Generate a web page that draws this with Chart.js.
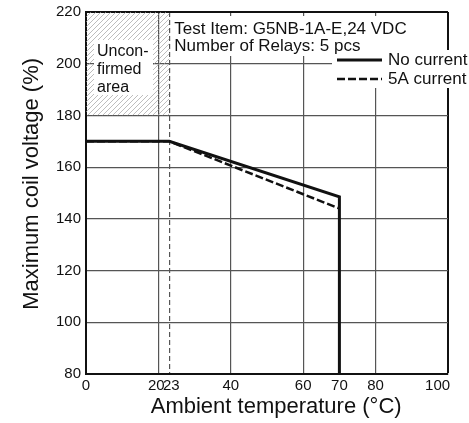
<!DOCTYPE html>
<html>
<head>
<meta charset="utf-8">
<script src="https://cdn.jsdelivr.net/npm/chart.js@4.4.0/dist/chart.umd.min.js"></script>
<style>
html, body { margin: 0; padding: 0; background: #fff; }
#wrap { width: 469px; height: 423px; }
</style>
</head>
<body>
<div id="wrap"><canvas id="coilChart" width="469" height="423"></canvas></div>
<script>
// axis ticks
const xTickValues = [0, 20, 23, 40, 60, 70, 80, 100];
const xTickLabels = ['0', '20 ', ' 23', '40', '60', '70', '80', '100     '];
const yMin = 80, yMax = 220, yStep = 20;

// curves
const noCurrentX = [0, 23, 70, 70];
const noCurrentY = [170, 170, 148.5, 80];
const fiveAX = [0, 23, 70];
const fiveAY = [170, 170, 144];
const seriesNames = ['No current', '5A current'];

// annotations
const unconfirmedX = [0, 23];
const unconfirmedY = [180, 220];
const unconfirmedText = ['Uncon-', 'firmed', 'area'];
const noteText = ['Test Item: G5NB-1A-E,24 VDC', 'Number of Relays: 5 pcs'];

const FONT = "'Liberation Sans', Arial, Helvetica, sans-serif";
const INK = '#111';
const GRID = '#555';

function initChart() {
    Chart.defaults.font.family = FONT;
    Chart.defaults.color = INK;

    const overlay = {
        id: 'overlay',
        beforeDatasetsDraw(chart) {
            const { ctx, chartArea: area } = chart;
            const xs = chart.scales.x, ys = chart.scales.y;

            // hatched "unconfirmed" region
            const left = xs.getPixelForValue(unconfirmedX[0]);
            const right = xs.getPixelForValue(unconfirmedX[1]);
            const top = ys.getPixelForValue(unconfirmedY[1]);
            const bottom = ys.getPixelForValue(unconfirmedY[0]);
            const h = bottom - top;
            ctx.save();
            ctx.beginPath();
            ctx.rect(left, top, right - left, h);
            ctx.clip();
            ctx.strokeStyle = '#a0a0a0';
            ctx.lineWidth = 0.7;
            ctx.beginPath();
            for (let k = -h; k < right - left; k += 5) {
                ctx.moveTo(left + k, bottom);
                ctx.lineTo(left + k + h, top);
            }
            ctx.stroke();
            ctx.restore();

            ctx.save();
            ctx.fillStyle = '#fff';
            ctx.fillRect(left + 8, top + 28, 59, 55);
            ctx.fillStyle = INK;
            ctx.font = '16px ' + FONT;
            ctx.textBaseline = 'alphabetic';
            unconfirmedText.forEach((t, i) => ctx.fillText(t, left + 11, top + 44 + i * 18));

            // legend box (drawn under the note so descenders stay visible)
            const lgX = area.right - 116;
            ctx.fillStyle = '#fff';
            ctx.fillRect(lgX, area.top + 38, 140, 38);

            // test conditions note
            const noteLeft = xs.getPixelForValue(unconfirmedX[1]) + 2;
            ctx.fillStyle = '#fff';
            ctx.fillRect(noteLeft, area.top + 4, area.right - noteLeft - 1, 40);
            ctx.fillStyle = INK;
            ctx.font = '17px ' + FONT;
            noteText.forEach((t, i) => ctx.fillText(t, noteLeft + 3, area.top + 22 + i * 17));

            // legend samples
            ctx.strokeStyle = INK;
            ctx.lineWidth = 3;
            ctx.beginPath();
            ctx.moveTo(lgX + 5, area.top + 48);
            ctx.lineTo(lgX + 50, area.top + 48);
            ctx.stroke();
            ctx.lineWidth = 2.5;
            ctx.setLineDash([8, 3]);
            ctx.beginPath();
            ctx.moveTo(lgX + 5, area.top + 67);
            ctx.lineTo(lgX + 50, area.top + 67);
            ctx.stroke();
            ctx.setLineDash([]);
            ctx.fillStyle = INK;
            ctx.font = '17px ' + FONT;
            ctx.textBaseline = 'middle';
            ctx.fillText(seriesNames[0], lgX + 56, area.top + 48);
            ctx.fillText(seriesNames[1], lgX + 56, area.top + 67);
            ctx.restore();
        }
    };

    const ctx = document.getElementById('coilChart').getContext('2d');
    new Chart(ctx, {
        type: 'scatter',
        data: {
            datasets: [
                {
                    label: seriesNames[0],
                    data: noCurrentX.map((x, i) => ({ x: x, y: noCurrentY[i] })),
                    showLine: true,
                    borderColor: INK,
                    borderWidth: 3,
                    pointRadius: 0,
                    tension: 0
                },
                {
                    label: seriesNames[1],
                    data: fiveAX.map((x, i) => ({ x: x, y: fiveAY[i] })),
                    showLine: true,
                    borderColor: INK,
                    borderWidth: 2.5,
                    borderDash: [8, 3],
                    pointRadius: 0,
                    tension: 0
                }
            ]
        },
        options: {
            responsive: false,
            animation: false,
            layout: { padding: { top: 12, right: 21, bottom: 0, left: 0 } },
            plugins: { legend: { display: false }, tooltip: { enabled: false } },
            scales: {
                x: {
                    type: 'linear',
                    min: 0,
                    max: 100,
                    afterBuildTicks: s => { s.ticks = xTickValues.map(v => ({ value: v })); },
                    afterFit: s => { s.height = 49; s.paddingLeft = 0; s.paddingRight = 0; },
                    ticks: {
                        autoSkip: false,
                        maxRotation: 0,
                        padding: 3,
                        color: INK,
                        font: { size: 15 },
                        callback: (v) => xTickLabels[xTickValues.indexOf(v)]
                    },
                    grid: {
                        drawTicks: false,
                        color: c => {
                            const v = c.tick.value;
                            if (v === 100) return INK;
                            if (v === 70 || v === 0) return 'rgba(0,0,0,0)';
                            return GRID;
                        },
                        lineWidth: c => (c.tick.value === 100 ? 2 : 1.2)
                    },
                    border: {
                        color: INK,
                        width: 2,
                        dash: c => (c.tick && c.tick.value === 23) ? [5, 3] : []
                    },
                    title: {
                        display: true,
                        text: '   Ambient temperature (°C)',
                        color: INK,
                        font: { size: 22 },
                        padding: { top: 0, bottom: 3 }
                    }
                },
                y: {
                    min: yMin,
                    max: yMax,
                    afterFit: s => { s.width = 86; s.paddingTop = 0; s.paddingBottom = 0; },
                    ticks: {
                        stepSize: yStep,
                        padding: 5,
                        color: INK,
                        font: { size: 15 }
                    },
                    grid: {
                        drawTicks: false,
                        color: c => {
                            const v = c.tick.value;
                            if (v === yMax) return INK;
                            if (v === yMin) return 'rgba(0,0,0,0)';
                            return GRID;
                        },
                        lineWidth: c => (c.tick.value === yMax ? 2 : 1.2)
                    },
                    border: { color: INK, width: 2 },
                    title: {
                        display: true,
                        text: '   Maximum coil voltage (%)',
                        color: INK,
                        font: { size: 22 },
                        padding: { top: 19, bottom: 0 }
                    }
                }
            }
        },
        plugins: [overlay]
    });
}

if (typeof Chart !== 'undefined') {
    initChart();
} else {
    window.addEventListener('load', initChart);
}
</script>
</body>
</html>
